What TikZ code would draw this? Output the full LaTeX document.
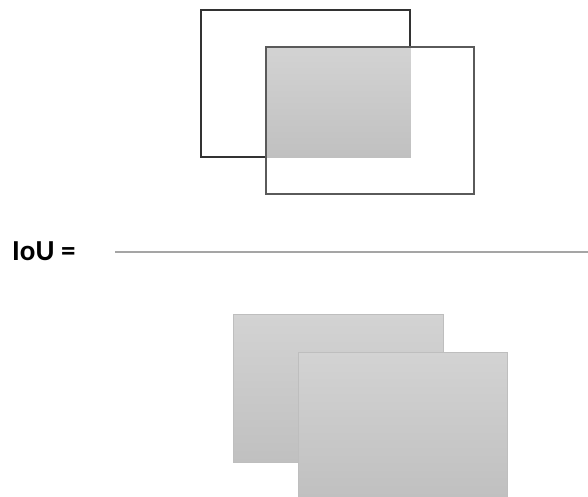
\documentclass[tikz,border=0pt]{standalone}
\usepackage{fontspec}
\setmainfont{Carlito}
\usetikzlibrary{positioning}
\definecolor{boxtop}{RGB}{211,211,211}
\definecolor{boxbot}{RGB}{192,192,192}
\definecolor{edgeA}{RGB}{50,50,50}
\definecolor{edgeB}{RGB}{90,90,90}
\definecolor{barcol}{RGB}{165,165,165}

\begin{document}
\begin{tikzpicture}[
  x=1pt, y=-1pt,
  frame/.style={line width=1.1pt},
  area/.style={top color=boxtop, bottom color=boxbot},
  paper/.style={area, draw=boxtop!90!black, line width=0.6pt},
  lbl/.style={font=\fontsize{29}{32}\selectfont\bfseries, inner sep=0pt},
]
  \useasboundingbox (0,0) rectangle (588,497);

  % numerator: overlap of the two boxes
  \draw[frame, draw=edgeA] (201,10) rectangle (410,157);
  \fill[area] (266,47) rectangle (410.8,157.8);
  \draw[frame, draw=edgeB] (266,47) rectangle (474,194);

  % fraction bar
  \node[lbl, anchor=west] (iou) at (12,251) {IoU =};
  \coordinate (barL) at (115,252);
  \coordinate (barR) at (588,252);
  \draw[barcol, line width=1.8pt] (barL) -- (barR);

  % denominator: union of the two boxes
  \draw[paper] (233,314) rectangle (443,462);
  \draw[paper] (298,352) rectangle (507,497);
\end{tikzpicture}
\end{document}
